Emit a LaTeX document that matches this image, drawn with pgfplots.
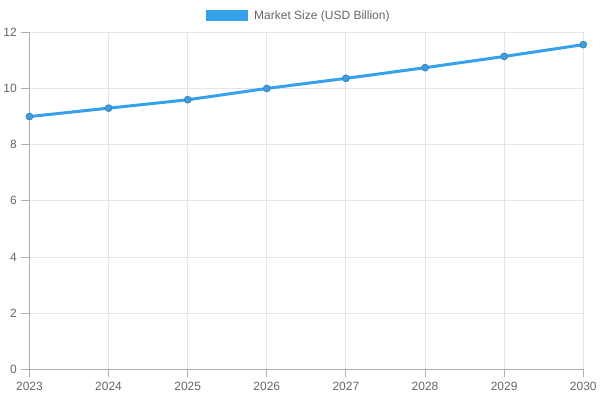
\documentclass[border=0pt]{standalone}
\usepackage{pgfplots}
\pgfplotsset{compat=1.18}
\usepackage{fontspec}
\setmainfont{Liberation Sans}
\definecolor{cjblue}{RGB}{54,162,235}
\definecolor{gridc}{RGB}{229,229,229}
\definecolor{axc}{RGB}{175,175,175}
\definecolor{txt}{RGB}{102,102,102}
\begin{document}
\begin{tikzpicture}[x=1pt,y=1pt]
\useasboundingbox (0,0) rectangle (450,300);
\begin{axis}[
  at={(22.1pt,22.9pt)}, anchor=south west,
  scale only axis, width=415.4pt, height=252.9pt,
  xmin=2023, xmax=2030, ymin=0, ymax=12,
  xtick={2023,...,2030}, ytick={0,2,...,12},
  x tick label style={/pgf/number format/1000 sep={}},
  /pgf/number format/assume math mode=true,
  ticklabel style={font=\fontsize{9}{10}\selectfont, text=txt},
  grid=major, major grid style={gridc, line width=0.75pt},
  axis x line*=bottom, axis y line*=left,
  axis line style={axc, line width=0.75pt},
  tick style={axc, line width=0.75pt},
  tick align=outside, major tick length=6pt,
  legend style={at={(0.487,1.049)}, anchor=center, draw=none, fill=none,
    font=\fontsize{9}{10}\selectfont, text=txt, inner sep=0pt},
  legend image code/.code={\fill[cjblue, draw=none] (0pt,-4.2pt) rectangle (31.5pt,4.3pt);
    \path[draw=none, fill=none] (34pt,0pt) circle (0pt);},
  clip=false,
]
\addplot[cjblue, line width=2.25pt, smooth, tension=0.2,
  mark=*, mark size=2.6pt, mark options={fill=cjblue!85!gray, draw=cjblue!80!black, line width=0.5pt}]
  coordinates {(2023,9.0) (2024,9.3) (2025,9.6) (2026,10.0) (2027,10.36) (2028,10.74) (2029,11.14) (2030,11.56)};
\addlegendentry{Market Size (USD Billion)}
\end{axis}
\end{tikzpicture}
\end{document}
